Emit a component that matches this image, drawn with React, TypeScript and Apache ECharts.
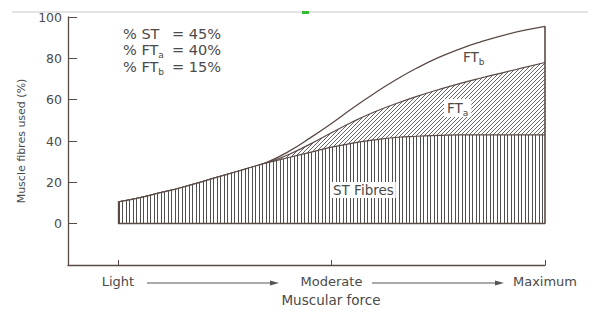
import React, { useEffect, useRef } from 'react';
import * as echarts from 'echarts';

// Muscular force scale: Light = 0, Moderate = 50, Maximum = 100
const forceLevels = [0, 5, 10, 15, 20, 25, 30, 35, 40, 45, 50, 55, 60, 65, 70, 75, 80, 85, 90, 95, 100];
// Cumulative % of fibres used
const stFibres = [10.5, 12.5, 15, 17.5, 20.5, 23.5, 26.5, 29.5, 32, 34.5, 37, 39, 40.5, 41.7, 42.3, 42.7, 43, 43, 43, 43, 43];
const stPlusFTa = [10.5, 12.5, 15, 17.5, 20.5, 23.5, 26.5, 29.6, 33.5, 38.5, 44, 49.3, 54, 58, 61.6, 64.8, 67.8, 70.5, 73, 75.5, 78];
const allFibres = [10.5, 12.5, 15, 17.5, 20.5, 23.5, 26.5, 29.8, 35, 41.5, 48.5, 56, 63, 69.5, 75.3, 80.3, 84.5, 88, 91, 93.5, 95.5];

const forceTickValues = [0, 50, 100];
const forceTickLabels = ['Light', 'Moderate', 'Maximum'];
const percentTicks = [0, 20, 40, 60, 80, 100];

const ink = '#5a4a46';
const textInk = '#4a4a4a';
const FONT = 'DejaVu Sans';

function makeVerticalHatch() {
  const c = document.createElement('canvas');
  c.width = 7;
  c.height = 8;
  const ctx = c.getContext('2d')!;
  ctx.fillStyle = '#ffffff';
  ctx.fillRect(0, 0, 7, 8);
  ctx.fillStyle = '#4f4f4f';
  ctx.fillRect(0, 0, 1, 8);
  ctx.fillRect(3, 0, 1, 8);
  return c;
}

function makeDiagonalHatch() {
  const s = 4;
  const c = document.createElement('canvas');
  c.width = s;
  c.height = s;
  const ctx = c.getContext('2d')!;
  ctx.fillStyle = '#ffffff';
  ctx.fillRect(0, 0, s, s);
  ctx.strokeStyle = '#555555';
  ctx.lineWidth = 0.9;
  ctx.beginPath();
  ctx.moveTo(0, s);
  ctx.lineTo(s, 0);
  ctx.moveTo(-1, 1);
  ctx.lineTo(1, -1);
  ctx.moveTo(s - 1, s + 1);
  ctx.lineTo(s + 1, s - 1);
  ctx.stroke();
  return c;
}

const pair = (arr: number[]) => forceLevels.map((x, i) => [x, arr[i]]);

export default function App() {
  const ref = useRef<HTMLDivElement>(null);

  useEffect(() => {
    if (!ref.current) return;
    const chart = echarts.init(ref.current, undefined, { renderer: 'svg' });
    const last = forceLevels.length - 1;
    const xMin = forceLevels[0];
    const xMax = forceLevels[last];

    const makeRich = (size: number) => ({
      n: { fontSize: size, fontFamily: FONT, fontWeight: 'normal', fill: textInk, lineHeight: 18 },
      s: { fontSize: 9, fontFamily: FONT, fontWeight: 'normal', fill: textInk, verticalAlign: 'bottom', lineHeight: 11 },
    });

    const legendRow = (label: string, value: string, y: number) => [
      { type: 'text', x: 123, y, style: { text: label, rich: makeRich(14.5), fill: textInk, verticalAlign: 'middle' } },
      { type: 'text', x: 221, y, style: { text: value, fill: textInk, font: `14.5px "${FONT}"`, align: 'right', verticalAlign: 'middle' } },
    ];

    const arrow = (x1: number, x2: number, y: number) => [
      { type: 'line', shape: { x1, y1: y, x2: x2 - 6, y2: y }, style: { stroke: '#555', lineWidth: 1 } },
      { type: 'polygon', shape: { points: [[x2 - 9, y - 2.5], [x2, y], [x2 - 9, y + 2.5]] }, style: { fill: '#555' } },
    ];

    chart.setOption({
      animation: false,
      backgroundColor: '#ffffff',
      grid: { left: 68, right: 55, top: 17, bottom: 55 },
      xAxis: {
        type: 'value',
        min: -11.7,
        max: 100,
        axisLine: { show: true, onZero: false, lineStyle: { color: ink, width: 1.3 } },
        axisTick: { show: true, inside: true, length: 5, customValues: forceTickValues, lineStyle: { color: ink } },
        axisLabel: {
          show: true,
          customValues: forceTickValues,
          margin: 10,
          color: textInk,
          fontSize: 13,
          fontFamily: FONT,
          formatter: (v: number) => forceTickLabels[forceTickValues.indexOf(v)] ?? '',
        },
        splitLine: { show: false },
      },
      yAxis: {
        type: 'value',
        min: -20,
        max: 100,
        interval: 20,
        name: 'Muscle fibres used (%)',
        nameLocation: 'middle',
        nameGap: 41,
        nameTextStyle: { color: textInk, fontSize: 11, fontFamily: FONT },
        axisLine: { show: true, onZero: false, lineStyle: { color: ink, width: 1.3 } },
        axisTick: { show: true, inside: true, length: 9, customValues: percentTicks, lineStyle: { color: ink } },
        axisLabel: {
          customValues: percentTicks,
          margin: 6,
          color: textInk,
          fontSize: 12.5,
          fontFamily: FONT,
          formatter: (v: number) => (percentTicks.includes(v) ? String(v) : ''),
        },
        splitLine: { show: false },
      },
      series: [
        {
          name: 'FTb',
          type: 'line',
          data: pair(allFibres),
          smooth: 0.5,
          symbol: 'none',
          z: 2,
          lineStyle: { color: ink, width: 1.3 },
          markLine: {
            silent: true,
            symbol: 'none',
            label: { show: false },
            lineStyle: { color: ink, width: 1.6, type: 'solid' },
            data: [[{ coord: [xMax, 0] }, { coord: [xMax, allFibres[last]] }]],
          },
        },
        {
          name: 'FTa',
          type: 'line',
          data: pair(stPlusFTa),
          smooth: 0.5,
          symbol: 'none',
          z: 3,
          lineStyle: { color: ink, width: 1.2 },
          areaStyle: { opacity: 1, color: { image: makeDiagonalHatch(), repeat: 'repeat', imageWidth: 4, imageHeight: 4 } },
        },
        {
          name: 'ST',
          type: 'line',
          data: pair(stFibres),
          smooth: 0.5,
          symbol: 'none',
          z: 4,
          lineStyle: { color: ink, width: 1.2 },
          areaStyle: { opacity: 1, color: { image: makeVerticalHatch(), repeat: 'repeat', imageWidth: 7, imageHeight: 8 } },
          markLine: {
            silent: true,
            symbol: 'none',
            label: { show: false },
            lineStyle: { color: ink, width: 1.3, type: 'solid' },
            data: [
              [{ coord: [xMin, 0] }, { coord: [xMin, stFibres[0]] }],
              [{ coord: [xMin, 0] }, { coord: [xMax, 0] }],
            ],
          },
        },
      ],
      graphic: [
        { type: 'line', shape: { x1: 12, y1: 12, x2: 588, y2: 12 }, style: { stroke: '#c8c8c8', lineWidth: 1 }, z: 10 },
        { type: 'rect', shape: { x: 302, y: 11, width: 7, height: 3 }, style: { fill: '#33bb33' }, z: 11 },
        ...legendRow('{n|% ST}', '= 45%', 34),
        ...legendRow('{n|% FT}{s|a}', '= 40%', 50),
        ...legendRow('{n|% FT}{s|b}', '= 15%', 67),
        { type: 'text', x: 463, y: 57, z: 20, style: { text: '{n|FT}{s|b}', rich: makeRich(13.5), fill: textInk, verticalAlign: 'middle' } },
        {
          type: 'text', x: 444, y: 108, z: 20,
          style: { text: '{n|FT}{s|a}', rich: makeRich(13.5), fill: textInk, verticalAlign: 'middle', backgroundColor: '#ffffff', padding: [0, 3, 0, 3] },
        },
        {
          type: 'text', x: 331, y: 190, z: 20,
          style: { text: 'ST Fibres', fill: textInk, font: `13.5px "${FONT}"`, verticalAlign: 'middle', backgroundColor: '#ffffff', padding: [1, 2, 1, 2] },
        },
        ...arrow(147, 279, 283),
        ...arrow(372, 504, 283),
        { type: 'text', x: 331, y: 300, style: { text: 'Muscular force', fill: textInk, font: `13.5px "${FONT}"`, align: 'center', verticalAlign: 'middle' } },
      ],
    });

    return () => chart.dispose();
  }, []);

  return <div ref={ref} style={{ position: 'fixed', left: 0, top: 0, width: 600, height: 320 }} />;
}
